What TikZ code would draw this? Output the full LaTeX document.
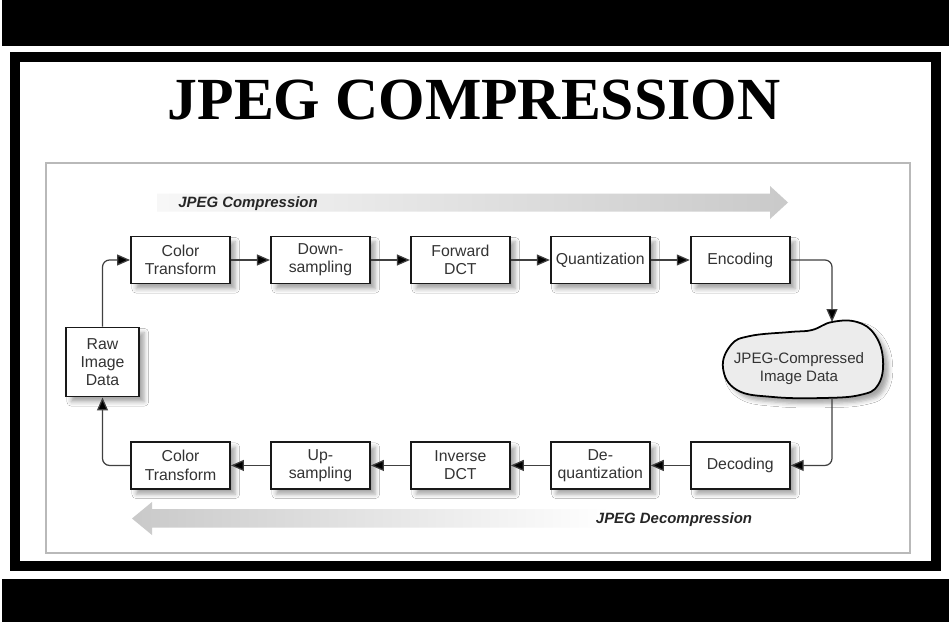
\documentclass[tikz,border=0pt]{standalone}
\usepackage{fontspec}
\setmainfont{Liberation Serif}
\setsansfont{Liberation Sans}
\usetikzlibrary{arrows.meta, positioning, shadows.blur}

\begin{document}
\begin{tikzpicture}[
    % Estilos globales de nodos
    base/.style = {align=center, font=\sffamily\fontsize{9}{10.4}\selectfont, text=black!80},
    sombra/.style = {blur shadow={shadow xshift=3pt, shadow yshift=-3pt, shadow blur radius=2.5pt, shadow opacity=35}},
    proceso/.style = {base, rectangle, draw=black!90, line width=1.1pt, fill=white, minimum width=1.98cm, minimum height=0.94cm, inner sep=1pt, sombra},
    nube/.style = {draw=black, line width=1pt, fill=gray!15, sombra},
    flecha/.style = {line width=0.7pt, draw=black!75, rounded corners=4pt, -{Triangle[length=0.26cm, width=0.22cm, fill=black]}},
    etiqueta/.style = {font=\sffamily\bfseries\itshape\fontsize{8.5}{10}\selectfont, text=black!85}
]
\useasboundingbox (0,0) rectangle (18.98,-12.44);
\fill[white] (0,0) rectangle (18.98,-12.44);

% ===============================
% 1. Marco y titulo
% ===============================
\fill[black] (0.04,0) rectangle (18.98,-0.92);
\fill[black] (0.04,-11.58) rectangle (18.98,-12.44);
\draw[line width=0.2cm] (0.31,-1.14) rectangle (18.71,-11.32);
\draw[gray!55, line width=0.8pt] (0.92,-3.26) rectangle (18.2,-11.06);

\node (titulo) at (9.48,-2.01) {\bfseries\fontsize{34}{40}\selectfont JPEG COMPRESSION};

% ===============================
% 2. Flechas de fondo
% ===============================
\shade[left color=gray!6, right color=gray!42] (3.14,-3.87) -- (15.4,-3.87) -- (15.4,-3.72)
    -- (15.76,-4.05) -- (15.4,-4.38) -- (15.4,-4.23) -- (3.14,-4.23) -- cycle;
\shade[left color=gray!42, right color=white] (2.64,-10.37) -- (3.04,-10.04) -- (3.04,-10.18)
    -- (12.2,-10.18) -- (12.2,-10.55) -- (3.04,-10.55) -- (3.04,-10.70) -- cycle;

\node (lcomp) [etiqueta] at (4.96,-4.08) {JPEG Compression};
\node (ldecomp) [etiqueta] at (13.48,-10.40) {JPEG Decompression};

% ===============================
% 3. Nodos de compresion
% ===============================
\node (raw) [proceso, minimum width=1.46cm, minimum height=1.38cm] at (2.05,-7.24) {Raw\\ Image\\ Data};

\node (ct) [proceso] at (3.61,-5.2) {Color\\ Transform};
\node (ds) [proceso, right=0.78cm of ct] {Down-\\ sampling};
\node (fdct) [proceso, right=0.78cm of ds] {Forward\\ DCT};
\node (quant) [proceso, right=0.78cm of fdct] {Quantization};
\node (enc) [proceso, right=0.78cm of quant] {Encoding};

% ===============================
% 4. Datos comprimidos
% ===============================
\draw[nube] plot[smooth cycle, tension=0.7] coordinates {(14.46,-7.36) (14.62,-6.90) (15.00,-6.72)
    (15.80,-6.64) (16.24,-6.60) (16.64,-6.44) (17.14,-6.44) (17.50,-6.70) (17.66,-7.20)
    (17.56,-7.70) (17.20,-7.90) (16.46,-7.96) (15.46,-7.94) (14.74,-7.80)};
\node (jdata) [base, font=\sffamily\fontsize{8.6}{10.2}\selectfont] at (15.98,-7.38) {JPEG-Compressed\\ Image Data};
\coordinate (jtop) at (16.64,-6.44);
\coordinate (jbot) at (16.64,-7.96);

% ===============================
% 5. Nodos de descompresion
% ===============================
\node (cti) [proceso, below=3.13cm of ct] {Color\\ Transform};
\node (ups) [proceso, right=0.78cm of cti] {Up-\\ sampling};
\node (idct) [proceso, right=0.78cm of ups] {Inverse\\ DCT};
\node (deq) [proceso, right=0.78cm of idct] {De-\\ quantization};
\node (dec) [proceso, right=0.78cm of deq] {Decoding};

% ===============================
% 6. Trazado de flechas
% ===============================
\draw [flecha] (raw.north) |- (ct.west);
\draw [flecha] (ct) -- (ds);
\draw [flecha] (ds) -- (fdct);
\draw [flecha] (fdct) -- (quant);
\draw [flecha] (quant) -- (enc);
\draw [flecha] (enc.east) -| (jtop);
\draw [flecha] (jbot) |- (dec.east);
\draw [flecha] (dec) -- (deq);
\draw [flecha] (deq) -- (idct);
\draw [flecha] (idct) -- (ups);
\draw [flecha] (ups) -- (cti);
\draw [flecha] (cti.west) -| (raw.south);

\end{tikzpicture}
\end{document}
